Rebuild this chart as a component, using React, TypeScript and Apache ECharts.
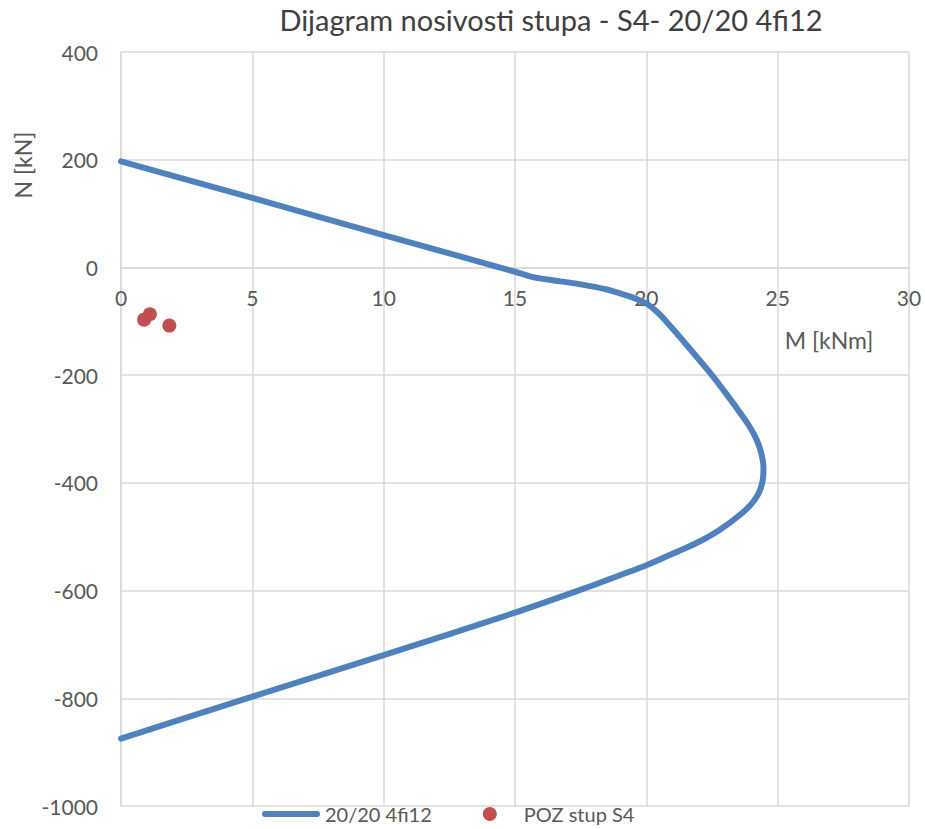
import React, { useEffect, useRef } from "react";
import * as echarts from "echarts";

const titleText = "Dijagram nosivosti stupa - S4- 20/20 4fi12";
const lineName = "20/20 4fi12";
const pointName = "POZ stup S4";

// Interaction curve: M [kNm], N [kN]
const curveM = [0, 5, 10, 15, 15.6, 16.3, 17.45, 18.5, 19.25, 19.6, 20.0, 20.35, 20.7, 21.2, 21.9, 22.5, 23.0, 23.5, 23.9, 24.2, 24.38, 24.46, 24.42, 24.25, 23.95, 23.5, 22.8, 22.1, 21.5, 20.8, 20, 18.7, 17.3, 15, 10, 5, 0];
const curveN = [197, 129, 60, -8, -17, -23, -31, -41, -52, -58, -67, -80, -97, -125, -165, -200, -232, -265, -293, -320, -346, -372, -398, -422, -442, -462, -487, -507, -521, -536, -553, -577, -602, -641, -720, -797, -875];

// Load points
const pointM = [0.88, 1.1, 1.84];
const pointN = [-97, -87, -108];

const xTicks = { min: 0, max: 30, interval: 5 };
const yTicks = { min: -1000, max: 400, interval: 200 };

const FONT = "Lato, 'Open Sans', sans-serif";
const GRID = "#d9d9d9";
const TEXT = "#595959";

const GRID_TOP = 52;
const GRID_BOTTOM = 23;
const H = 829;

export default function App() {
  const ref = useRef<HTMLDivElement>(null);
  useEffect(() => {
    if (!ref.current) return;
    const chart = echarts.init(ref.current, undefined, { renderer: "svg" });
    const curve = curveM.map((m, i) => [m, curveN[i]]);
    const pts = pointM.map((m, i) => [m, pointN[i]]);
    const plotH = H - GRID_TOP - GRID_BOTTOM;
    const zeroY = GRID_TOP + (yTicks.max / (yTicks.max - yTicks.min)) * plotH;
    const xOffset = -(GRID_TOP + plotH - zeroY);
    chart.setOption({
      animation: false,
      backgroundColor: "#ffffff",
      textStyle: { fontFamily: FONT },
      grid: { left: 121, right: 16, top: GRID_TOP, bottom: GRID_BOTTOM, containLabel: false },
      xAxis: {
        type: "value",
        min: xTicks.min,
        max: xTicks.max,
        interval: xTicks.interval,
        position: "bottom",
        offset: xOffset,
        axisLine: { show: true, onZero: false, lineStyle: { color: GRID, width: 1.5 } },
        axisTick: { show: false },
        axisLabel: { color: TEXT, fontSize: 21, fontFamily: FONT, margin: 20 },
        splitLine: { show: true, lineStyle: { color: GRID, width: 1.5 } },
      },
      yAxis: {
        type: "value",
        min: yTicks.min,
        max: yTicks.max,
        interval: yTicks.interval,
        axisLine: { show: true, onZero: false, lineStyle: { color: GRID, width: 1.5 } },
        axisTick: { show: false },
        axisLabel: {
          color: TEXT,
          fontSize: 21,
          fontFamily: FONT,
          margin: 23,
          formatter: (v: number) => String(v),
        },
        splitLine: { show: true, lineStyle: { color: GRID, width: 1.5 } },
      },
      legend: {
        left: 257,
        top: 799,
        itemWidth: 58,
        itemHeight: 14,
        itemGap: 51,
        textStyle: { color: TEXT, fontSize: 20, fontFamily: FONT },
        data: [
          { name: lineName, icon: "path://M3,0 L55,0 A3,3 0 0 1 55,6 L3,6 A3,3 0 0 1 3,0 Z" },
          { name: pointName, icon: "circle" },
        ],
      },
      graphic: [
        {
          type: "text",
          x: 551,
          y: 19,
          style: {
            text: titleText,
            fill: "#404040",
            font: `29px ${FONT}`,
            textAlign: "center",
            textVerticalAlign: "middle",
          },
        },
        {
          type: "text",
          x: 23,
          y: 165,
          rotation: Math.PI / 2,
          style: {
            text: "N [kN]",
            fill: TEXT,
            font: `23px ${FONT}`,
            textAlign: "center",
            textVerticalAlign: "middle",
          },
        },
        {
          type: "text",
          x: 829,
          y: 340,
          style: {
            text: "M [kNm]",
            fill: TEXT,
            font: `23px ${FONT}`,
            textAlign: "center",
            textVerticalAlign: "middle",
          },
        },
      ],
      series: [
        {
          name: lineName,
          type: "line",
          data: curve,
          smooth: 0.25,
          symbol: "none",
          lineStyle: { color: "#4F81BD", width: 6, cap: "round", join: "round" },
          itemStyle: { color: "#4F81BD" },
          z: 3,
        },
        {
          name: pointName,
          type: "scatter",
          data: pts,
          symbol: "circle",
          symbolSize: 14,
          itemStyle: { color: "#C0504D", opacity: 1 },
          z: 4,
        },
      ],
    });
    return () => chart.dispose();
  }, []);
  return (
    <div
      ref={ref}
      style={{ position: "absolute", left: 0, top: 0, width: 925, height: 829 }}
    />
  );
}
